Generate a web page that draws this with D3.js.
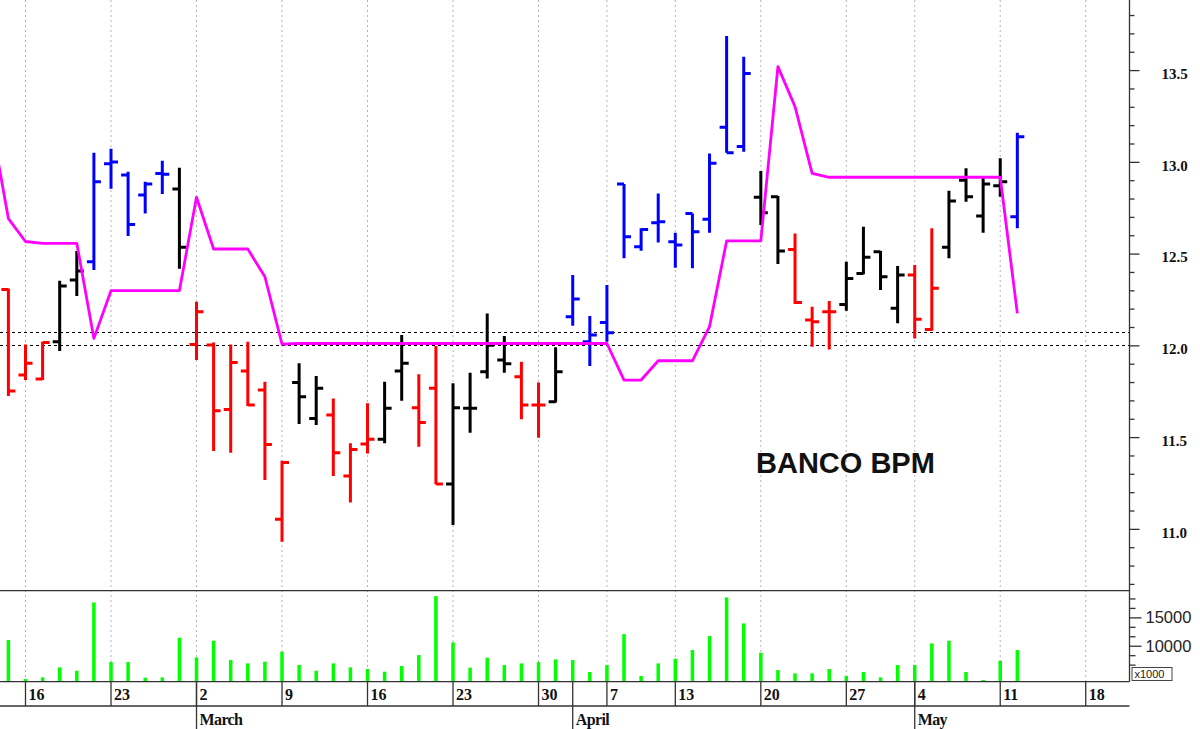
<!DOCTYPE html>
<html><head><meta charset="utf-8">
<script src="https://cdn.jsdelivr.net/npm/d3@7"></script>
<style>html,body{margin:0;padding:0;background:#fff;overflow:hidden}</style>
</head><body>
<svg id="chart" width="1200" height="729"></svg>
<script>
// ---------------- DATA ----------------
const dates = ["2026-02-12","2026-02-13","2026-02-16","2026-02-17","2026-02-18","2026-02-19","2026-02-20",
"2026-02-23","2026-02-24","2026-02-25","2026-02-26","2026-02-27",
"2026-03-02","2026-03-03","2026-03-04","2026-03-05","2026-03-06",
"2026-03-09","2026-03-10","2026-03-11","2026-03-12","2026-03-13",
"2026-03-16","2026-03-17","2026-03-18","2026-03-19","2026-03-20",
"2026-03-23","2026-03-24","2026-03-25","2026-03-26","2026-03-27",
"2026-03-30","2026-03-31","2026-04-01","2026-04-02",
"2026-04-07","2026-04-08","2026-04-09","2026-04-10",
"2026-04-13","2026-04-14","2026-04-15","2026-04-16","2026-04-17",
"2026-04-20","2026-04-21","2026-04-22","2026-04-23","2026-04-24",
"2026-04-27","2026-04-28","2026-04-29","2026-04-30",
"2026-05-04","2026-05-05","2026-05-06","2026-05-07","2026-05-08",
"2026-05-11","2026-05-12"];
// trading days after the last bar (axis only)
const axisDates = ["2026-05-13","2026-05-14","2026-05-15","2026-05-18","2026-05-19","2026-05-20"];

const open  = [null,12.305,11.838,11.817,12.02,12.356,12.456,12.99,12.928,12.819,12.937,12.852,
12.005,12.002,11.651,11.86,11.757,11.052,11.798,11.602,11.62,11.288,11.462,11.488,11.86,11.66,11.766,
11.244,11.657,11.856,11.92,11.829,11.675,11.693,12.156,12.02,12.124,12.879,12.538,12.668,
12.565,12.719,12.687,13.188,13.083,12.807,12.81,12.523,12.138,12.183,12.223,12.392,12.51,12.202,
12.383,12.087,12.534,12.9,12.705,12.87,12.701];
const high  = [null,12.31,12.005,12.02,12.352,12.514,13.05,13.072,12.946,12.892,13.006,12.968,
12.238,12.015,12.005,12.02,11.802,11.371,11.902,11.833,11.711,11.466,11.684,11.802,12.056,11.842,11.996,
11.793,11.851,12.174,12.051,11.911,11.797,11.989,12.383,12.16,12.329,12.879,12.638,12.828,
12.614,12.719,13.046,13.686,13.573,12.95,12.814,12.61,12.211,12.242,12.456,12.647,12.514,12.432,
12.438,12.638,12.843,12.965,12.923,13.019,13.159];
const low   = [null,11.724,11.811,11.811,11.969,12.269,12.411,12.854,12.596,12.719,12.825,12.418,
11.92,11.424,11.415,11.669,11.266,10.93,11.571,11.566,11.288,11.143,11.411,11.466,11.698,11.448,11.243,
11.021,11.524,11.82,11.851,11.597,11.497,11.688,12.107,11.887,12.02,12.474,12.516,12.56,
12.423,12.42,12.614,13.05,13.055,12.656,12.443,12.225,11.993,11.978,12.189,12.387,12.302,12.12,
12.038,12.08,12.474,12.783,12.614,12.81,12.638];
const close = [null,11.751,11.902,12.016,12.323,12.405,12.892,12.999,12.659,12.879,12.932,12.534,
12.183,11.644,11.906,11.675,11.46,11.362,11.72,11.766,11.415,11.433,11.488,11.657,11.902,11.58,11.244,
11.66,11.657,12.0,11.9,11.675,11.675,11.856,12.252,12.056,12.069,12.592,12.632,12.674,
12.547,12.619,12.992,13.05,13.482,12.723,12.514,12.234,12.129,12.183,12.365,12.48,12.374,12.383,
12.142,12.311,12.787,12.81,12.879,12.892,13.137];
// volume in thousands
const volume = [null,10998,4130,4423,6185,5598,17631,7124,7124,4365,4423,11409,
7946,10880,7476,6889,7182,8943,6595,5598,6889,6185,5891,5421,6419,8356,18746,
10587,6126,7887,6595,6889,7124,7593,7476,5363,6595,12054,4658,6889,
7711,9237,11702,18512,13933,8767,5715,5128,5128,5891,4658,5363,4423,6595,
6595,10411,10880,5363,3954,7359,9237];
// magenta trailing-stop style indicator
const trend = [13.21,12.691,12.566,12.556,12.556,12.556,12.038,12.298,12.298,12.298,12.298,12.298,
12.807,12.525,12.525,12.525,12.374,12.007,12.01,12.01,12.01,12.01,12.01,12.01,12.01,12.01,12.01,
12.01,12.01,12.01,12.01,12.01,12.01,12.01,12.01,12.01,12.01,11.811,11.811,11.916,
11.916,11.916,12.102,12.569,12.569,12.569,13.519,13.301,12.937,12.916,12.916,12.916,12.916,12.916,
12.916,12.916,12.916,12.916,12.916,12.916,12.174];
// bar state: "up" (blue), "neutral" (black), "down" (red)
const regime = [null,"down","down","down","neutral","neutral","up","up","up","up","up","neutral",
"down","down","down","down","down","down","neutral","neutral","down","down","down","neutral","neutral","down","down",
"neutral","neutral","neutral","neutral","down","down","neutral","up","up","up","up","up","up",
"up","up","up","up","up","neutral","neutral","down","down","down","neutral","neutral","neutral","neutral",
"down","down","neutral","neutral","neutral","neutral","up"];
const priceTicks = [11.0, 11.5, 12.0, 12.5, 13.0, 13.5];
const volumeTicks = [10000, 15000];
const refLevels = [12.0, 12.074];
const monthNames = ["January","February","March","April","May","June","July","August","September","October","November","December"];
const title = "BANCO BPM";

// ---------------- LAYOUT ----------------
const plotR = 1129.5, priceTop = 0, priceBot = 590.7, volBot = 681.7, dateBot = 706, H = 729;
const colors = {up:"#0000ff", neutral:"#000000", down:"#ff0000"};
const svg = d3.select("#chart");
const parse = d3.timeParse("%Y-%m-%d");
const allDates = dates.concat(axisDates).map(parse);
const x = d3.scaleLinear().domain([0.509, 66.53]).range([0, 1129]);
const y = d3.scaleLinear().domain([10.663, 13.882]).range([priceBot, priceTop]);
const yv = d3.scaleLinear().domain([3660, 19700]).range([volBot, priceBot]);

svg.append("defs").append("clipPath").attr("id","pclip")
  .append("rect").attr("x",0).attr("y",0).attr("width",plotR).attr("height",priceBot);

// week / month boundaries
const weekIdx = [], monthIdx = [];
allDates.forEach((d,k)=>{
  if(k===0) return;
  const p = allDates[k-1];
  if (d.getDay() < p.getDay() || (d - p) > 4*864e5) weekIdx.push(k);
  if (d.getMonth() !== p.getMonth()) monthIdx.push(k);
});

// vertical dotted grid
svg.append("g").selectAll("line").data(weekIdx).join("line")
  .attr("x1",k=>x(k)).attr("x2",k=>x(k)).attr("y1",0).attr("y2",volBot)
  .attr("stroke","#b4b4b4").attr("stroke-width",1).attr("stroke-dasharray","2,3");

// horizontal reference dashed lines
svg.append("g").selectAll("line").data(refLevels).join("line")
  .attr("x1",0).attr("x2",plotR).attr("y1",d=>Math.round(y(d))+0.5).attr("y2",d=>Math.round(y(d))+0.5)
  .attr("stroke","#000").attr("stroke-width",1).attr("stroke-dasharray","3,3");

// OHLC bars
const idx = d3.range(dates.length).filter(k=>open[k]!=null);
const tl = 7;
svg.append("g").attr("clip-path","url(#pclip)").selectAll("path").data(idx).join("path")
  .attr("d",k=>{const cx=x(k);
    return `M${cx},${y(high[k])}V${y(low[k])}M${cx-tl},${y(open[k])}H${cx}M${cx},${y(close[k])}H${cx+tl}`;})
  .attr("fill","none").attr("stroke",k=>colors[regime[k]]).attr("stroke-width",3);

// magenta trend line
svg.append("path").attr("clip-path","url(#pclip)")
  .datum(d3.range(trend.length))
  .attr("d", d3.line().x(k=>x(k)).y(k=>y(trend[k])))
  .attr("fill","none").attr("stroke","#ff00ff").attr("stroke-width",2.8).attr("stroke-linejoin","round");

// volume bars
svg.append("g").selectAll("line").data(idx).join("line")
  .attr("x1",k=>x(k)).attr("x2",k=>x(k)).attr("y1",volBot).attr("y2",k=>yv(volume[k]))
  .attr("stroke","#00ff00").attr("stroke-width",3.5);

// panel frames
const frame = svg.append("g").attr("stroke","#333").attr("stroke-width",1.3);
frame.append("line").attr("x1",0).attr("x2",plotR).attr("y1",priceBot).attr("y2",priceBot);
frame.append("line").attr("x1",0).attr("x2",plotR).attr("y1",volBot).attr("y2",volBot);
frame.append("line").attr("x1",0).attr("x2",plotR).attr("y1",dateBot).attr("y2",dateBot);
frame.append("line").attr("x1",plotR).attr("x2",plotR).attr("y1",0).attr("y2",volBot);

// price axis (right)
const pa = svg.append("g").attr("transform",`translate(${plotR},0)`)
  .call(d3.axisRight(y).tickValues(priceTicks).tickSize(10).tickPadding(22).tickFormat(d3.format(".1f")));
pa.select(".domain").remove();
pa.selectAll("line").attr("stroke","#333").attr("stroke-width",1.3);
pa.selectAll("text").attr("font-family","'Liberation Serif',serif").attr("font-weight","bold")
  .attr("font-size",15).attr("fill","#111").attr("dy","0.55em");
const minorP = d3.range(107,139).map(v=>v/10).filter(v=>Math.abs(v*2-Math.round(v*2))>1e-6);
const pm = svg.append("g").attr("transform",`translate(${plotR},0)`)
  .call(d3.axisRight(y).tickValues(minorP).tickSize(5).tickFormat(""));
pm.select(".domain").remove();
pm.selectAll("line").attr("stroke","#333").attr("stroke-width",1.3);

// volume axis (right)
const va = svg.append("g").attr("transform",`translate(${plotR},0)`)
  .call(d3.axisRight(yv).tickValues(volumeTicks).tickSize(12).tickPadding(4).tickFormat(d3.format("d")));
va.select(".domain").remove();
va.selectAll("line").attr("stroke","#333").attr("stroke-width",1.3);
va.selectAll("text").attr("font-family","'Liberation Sans',Arial,sans-serif")
  .attr("font-size",16.5).attr("fill","#222");
const minorV = d3.range(1,12).map(k=>5000*k/3).filter(v=>v>3800 && v<19700 && v%5000!==0);
const vm = svg.append("g").attr("transform",`translate(${plotR},0)`)
  .call(d3.axisRight(yv).tickValues(minorV).tickSize(6).tickFormat(""));
vm.select(".domain").remove();
vm.selectAll("line").attr("stroke","#333").attr("stroke-width",1.3);
svg.append("rect").attr("x",plotR+2.5).attr("y",667.5).attr("width",40).attr("height",13)
  .attr("fill","#fff").attr("stroke","#444").attr("stroke-width",1);
svg.append("text").attr("x",plotR+5).attr("y",678).text("x1000")
  .attr("font-family","'Liberation Sans',Arial,sans-serif").attr("font-size",11).attr("fill","#222");

// date axis
const dg = svg.append("g");
dg.selectAll("line.w").data(weekIdx.filter(k=>x(k)<plotR)).join("line")
  .attr("x1",k=>x(k)).attr("x2",k=>x(k)).attr("y1",volBot).attr("y2",dateBot)
  .attr("stroke","#333").attr("stroke-width",1.3);
dg.selectAll("text.w").data(weekIdx.filter(k=>x(k)<plotR-15)).join("text")
  .attr("x",k=>x(k)+3).attr("y",700).text(k=>allDates[k].getDate())
  .attr("font-family","'Liberation Serif',serif").attr("font-weight","bold").attr("font-size",16).attr("fill","#111");
dg.selectAll("line.m").data(monthIdx).join("line")
  .attr("x1",k=>x(k)).attr("x2",k=>x(k)).attr("y1",volBot).attr("y2",H)
  .attr("stroke","#333").attr("stroke-width",1.3);
dg.selectAll("text.m").data(monthIdx).join("text")
  .attr("x",k=>x(k)+3).attr("y",725).text(k=>monthNames[allDates[k].getMonth()])
  .attr("font-family","'Liberation Serif',serif").attr("font-weight","bold").attr("font-size",16)
  .attr("letter-spacing",-0.6).attr("fill","#111");

// title
svg.append("text").attr("x",756).attr("y",473).text(title)
  .attr("font-family","'Liberation Sans',Arial,sans-serif").attr("font-weight","bold")
  .attr("font-size",29).attr("fill","#111");
</script>
</body></html>
